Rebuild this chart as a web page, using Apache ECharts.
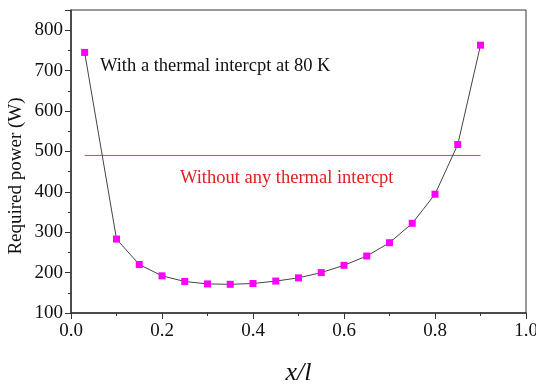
<!DOCTYPE html>
<html><head><meta charset="utf-8">
<script src="https://cdn.jsdelivr.net/npm/echarts@6/dist/echarts.min.js"></script>
<style>html,body{margin:0;padding:0;background:#fff}#c{width:536px;height:384px}</style>
</head><body><div id="c"></div>
<script>
const xValues = [0.03, 0.1, 0.15, 0.2, 0.25, 0.3, 0.35, 0.4, 0.45, 0.5, 0.55, 0.6, 0.65, 0.7, 0.75, 0.8, 0.85, 0.9];
const powerWith = [745, 283, 220, 192, 178, 172, 171, 173, 179, 187, 200, 218, 241, 274, 322, 394, 517, 763];
const noInterceptX = [0.03, 0.9];
const noInterceptValue = 490;
const labelWith = 'With a thermal intercpt at 80 K';
const labelWithout = 'Without any thermal intercpt';
const yTitle = 'Required power (W)';

const font = 'Liberation Serif, Times New Roman, serif';
const chart = echarts.init(document.getElementById('c'));
chart.setOption({
  animation: false,
  grid: {left: 71, right: 10, top: 10, bottom: 71, show: true, borderColor: '#333', borderWidth: 1,
         containLabel: false, outerBoundsMode: 'none'},
  xAxis: {
    type: 'value', min: 0, max: 1.0, interval: 0.2,
    name: 'x/l', nameLocation: 'middle', nameGap: 47,
    nameTextStyle: {fontFamily: font, fontSize: 26, fontStyle: 'italic', color: '#111'},
    axisLine: {lineStyle: {color: '#333', width: 1.5}},
    axisTick: {show: true, inside: false, length: 6, lineStyle: {color: '#333'}},
    minorTick: {show: true, splitNumber: 2, length: 3, lineStyle: {color: '#333'}},
    axisLabel: {fontFamily: font, fontSize: 19, color: '#111', margin: 9, formatter: v => v.toFixed(1)},
    splitLine: {show: false}
  },
  yAxis: {
    type: 'value', min: 100, max: 850, interval: 100,
    axisLine: {show: true, lineStyle: {color: '#333', width: 1.5}},
    axisTick: {show: true, inside: false, length: 6, lineStyle: {color: '#333'}},
    minorTick: {show: true, splitNumber: 2, length: 3, lineStyle: {color: '#333'}},
    axisLabel: {fontFamily: font, fontSize: 19, color: '#111', margin: 8, showMaxLabel: false},
    splitLine: {show: false}
  },
  series: [
    {
      type: 'line',
      data: xValues.map((x, i) => [x, powerWith[i]]),
      symbol: 'rect', symbolSize: 7,
      itemStyle: {color: '#ff00ff'},
      lineStyle: {color: '#444', width: 1},
      z: 3
    },
    {
      type: 'line',
      data: noInterceptX.map(x => [x, noInterceptValue]),
      symbol: 'none',
      lineStyle: {color: '#f03c3c', width: 1},
      z: 2
    }
  ],
  graphic: [
    {type: 'text', x: 16, y: 176, rotation: Math.PI / 2,
     style: {text: yTitle, fontFamily: font, fontSize: 19, fill: '#111', align: 'center', verticalAlign: 'middle'}},
    {type: 'text', left: 100, top: 57, style: {text: labelWith, fontFamily: font, fontSize: 18.5, fill: '#111'}},
    {type: 'text', left: 180, top: 169, style: {text: labelWithout, fontFamily: font, fontSize: 18.5, fill: '#e02020'}}
  ]
});
</script></body></html>
